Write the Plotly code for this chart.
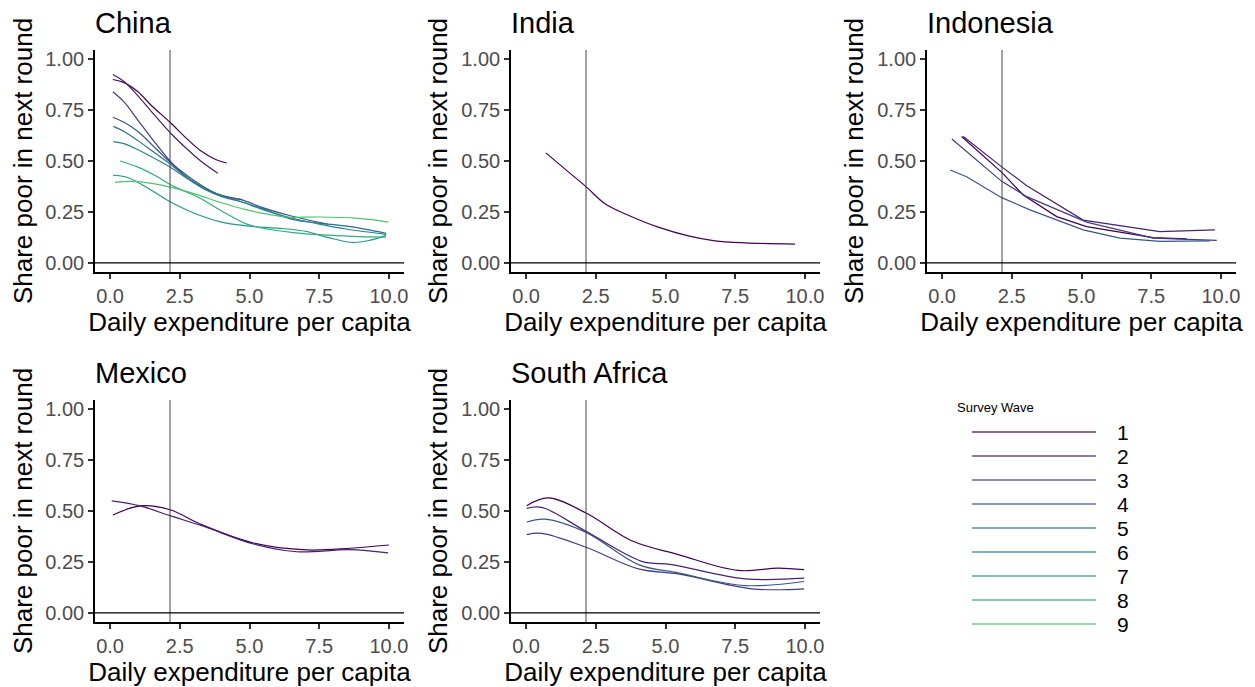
import plotly.graph_objects as go
from plotly.colors import sample_colorscale

# ---- data ----
countries = ["China", "India", "Indonesia", "Mexico", "South Africa"]
waves = [1, 2, 3, 4, 5, 6, 7, 8, 9]
poverty_line = 2.15

china_waves = [1, 2, 3, 4, 5, 6, 7, 8, 9]
china_x = [
    [0.1, 0.5, 1.0, 1.5, 2.15, 2.75, 3.25, 3.75, 4.18],
    [0.1, 0.5, 1.0, 1.5, 2.15, 2.75, 3.25, 3.86],
    [0.1, 0.5, 1.0, 1.5, 2.15, 2.75, 3.3, 3.8, 4.3, 4.75],
    [0.1, 0.5, 1.0, 1.5, 2.15, 2.75, 3.4, 4.0, 4.7, 5.5, 6.5, 7.8],
    [0.12, 0.5, 1.0, 1.5, 2.15, 2.75, 3.4, 4.0, 4.7, 5.5, 6.5, 7.5, 8.5, 9.9],
    [0.12, 0.5, 1.0, 1.5, 2.15, 2.75, 3.4, 4.0, 4.7, 5.5, 6.5, 7.5, 8.5, 9.9],
    [0.1, 0.6, 1.2, 2.15, 3.0, 4.0, 5.0, 6.0, 7.0, 7.8, 8.7, 9.3, 9.9],
    [0.36, 1.0, 1.6, 2.15, 2.7, 3.2, 4.0, 4.9, 5.7, 6.5, 7.6, 8.7, 9.9],
    [0.18, 0.8, 1.5, 2.15, 3.0, 4.0, 4.9, 5.6, 6.3, 7.5, 8.8, 9.4, 9.98],
]
china_y = [
    [0.90, 0.885, 0.84, 0.77, 0.69, 0.61, 0.55, 0.51, 0.49],
    [0.925, 0.89, 0.82, 0.74, 0.64, 0.56, 0.50, 0.44],
    [0.84, 0.79, 0.70, 0.61, 0.50, 0.42, 0.37, 0.34, 0.32, 0.31],
    [0.715, 0.69, 0.645, 0.58, 0.495, 0.43, 0.37, 0.33, 0.31, 0.27, 0.23, 0.19],
    [0.67, 0.645, 0.60, 0.55, 0.485, 0.42, 0.365, 0.33, 0.30, 0.265, 0.215, 0.195, 0.18, 0.145],
    [0.595, 0.585, 0.555, 0.52, 0.47, 0.415, 0.36, 0.325, 0.30, 0.26, 0.22, 0.19, 0.165, 0.14],
    [0.43, 0.42, 0.38, 0.30, 0.245, 0.20, 0.18, 0.17, 0.155, 0.125, 0.10, 0.11, 0.135],
    [0.50, 0.47, 0.43, 0.385, 0.35, 0.32, 0.255, 0.19, 0.165, 0.15, 0.137, 0.13, 0.126],
    [0.395, 0.40, 0.39, 0.372, 0.34, 0.295, 0.26, 0.24, 0.225, 0.225, 0.22, 0.212, 0.20],
]

india_waves = [1]
india_x = [[0.71, 1.4, 2.15, 2.83, 3.73, 4.74, 5.82, 6.77, 7.85, 9.64]]
india_y = [[0.54, 0.46, 0.374, 0.29, 0.23, 0.175, 0.132, 0.108, 0.098, 0.092]]

indonesia_waves = [1, 2, 3, 4]
indonesia_x = [
    [0.7, 2.15, 2.91, 4.11, 5.18, 7.57, 8.77],
    [0.76, 2.15, 3.04, 5.06, 7.81, 9.78],
    [0.35, 2.14, 3.04, 5.18, 7.57, 9.85],
    [0.29, 0.88, 2.14, 3.15, 5.06, 6.38, 7.81, 9.6],
]
indonesia_y = [
    [0.62, 0.443, 0.333, 0.227, 0.178, 0.124, 0.118],
    [0.62, 0.47, 0.379, 0.21, 0.153, 0.162],
    [0.608, 0.40, 0.325, 0.20, 0.121, 0.11],
    [0.456, 0.423, 0.32, 0.26, 0.162, 0.121, 0.105, 0.108],
]

mexico_waves = [1, 2]
mexico_x = [
    [0.1, 1.08, 2.15, 3.23, 5.14, 7.05, 8.6, 10.0],
    [0.06, 1.08, 2.15, 3.35, 5.14, 6.69, 8.6, 9.97],
]
mexico_y = [
    [0.48, 0.525, 0.506, 0.436, 0.343, 0.309, 0.317, 0.333],
    [0.55, 0.525, 0.477, 0.425, 0.338, 0.30, 0.31, 0.294],
]

south_africa_waves = [1, 2, 3, 4]
south_africa_x = [
    [0.02, 0.8, 2.15, 3.79, 5.46, 7.61, 9.04, 9.97],
    [0.02, 0.56, 2.15, 4.15, 5.22, 7.85, 9.97],
    [0.02, 0.56, 2.15, 4.03, 5.46, 8.09, 9.97],
    [0.02, 0.68, 2.15, 4.03, 5.46, 7.85, 9.97],
]
south_africa_y = [
    [0.526, 0.564, 0.49, 0.354, 0.286, 0.208, 0.22, 0.212],
    [0.513, 0.518, 0.40, 0.253, 0.237, 0.167, 0.170],
    [0.384, 0.39, 0.322, 0.216, 0.191, 0.118, 0.118],
    [0.446, 0.46, 0.395, 0.237, 0.196, 0.134, 0.154],
]

panels = [
    (china_waves, china_x, china_y),
    (india_waves, india_x, india_y),
    (indonesia_waves, indonesia_x, indonesia_y),
    (mexico_waves, mexico_x, mexico_y),
    (south_africa_waves, south_africa_x, south_africa_y),
]

# viridis, stopping at lime green like the reference
colors = sample_colorscale("Viridis", [i * 0.72 / 8 for i in range(9)])
wave_color = dict(zip(waves, colors))

W, H = 1255, 687
OFF = 8  # page body margin
col_px = [(95, 404), (511, 820), (927, 1236)]
row_px = [(50, 272), (400, 622)]
font = "Liberation Sans, Arial, sans-serif"


def px(v):
    return (v - OFF) / W


def py(v):
    return 1 - (v - OFF) / H


fig = go.Figure()

for i, (name, (wv, xs, ys)) in enumerate(zip(countries, panels)):
    r, c = divmod(i, 3)
    n = i + 1
    xa = "x" if n == 1 else f"x{n}"
    ya = "y" if n == 1 else f"y{n}"
    for w, x, y in zip(wv, xs, ys):
        fig.add_trace(go.Scatter(
            x=x, y=y, mode="lines", xaxis=xa, yaxis=ya,
            line=dict(color=wave_color[w], width=1.2,
                      shape="linear" if name == "Indonesia" else "spline",
                      smoothing=1.0),
            name=str(w), showlegend=False,
        ))

    x0, x1 = col_px[c]
    y0, y1 = row_px[r]
    axis_common = dict(showline=True, linecolor="black", linewidth=1.6,
                       ticks="outside", ticklen=5, tickwidth=1.6, tickcolor="#333333",
                       showgrid=False, zeroline=False, automargin=False,
                       tickfont=dict(family=font, size=20, color="#4d4d4d"))
    fig.update_layout({
        f"xaxis{'' if n == 1 else n}": dict(
            domain=[px(x0), px(x1)], anchor=ya, range=[-0.54, 10.54],
            tickvals=[0, 2.5, 5, 7.5, 10], tickformat=".1f",
            title=dict(text="Daily expenditure per capita", standoff=4,
                       font=dict(family=font, size=26, color="black")),
            **axis_common),
        f"yaxis{'' if n == 1 else n}": dict(
            domain=[py(y1), py(y0)], anchor=xa, range=[-0.045, 1.045],
            tickvals=[0, 0.25, 0.5, 0.75, 1], tickformat=".2f",
            title=dict(text="Share poor in next round", standoff=6,
                       font=dict(family=font, size=26, color="black")),
            **axis_common),
    })
    # poverty line and zero line
    fig.add_shape(type="line", xref=xa, yref=f"{ya} domain", x0=poverty_line, x1=poverty_line,
                  y0=0, y1=1, line=dict(color="#444444", width=1))
    fig.add_shape(type="line", xref=f"{xa} domain", yref=ya, x0=0, x1=1, y0=0, y1=0,
                  line=dict(color="black", width=1.1))
    fig.add_annotation(text=name, xref="paper", yref="paper", x=px(x0 - 1),
                       y=py(y0 - 27), xanchor="left", yanchor="middle", borderpad=0,
                       showarrow=False, font=dict(family=font, size=29, color="black"))

# hand-drawn legend (long keys, as in ggplot)
fig.add_annotation(text="Survey Wave", xref="paper", yref="paper", x=px(955), y=py(408),
                   xanchor="left", yanchor="middle", showarrow=False,
                   font=dict(family=font, size=13, color="black"))
for k, w in enumerate(waves):
    yy = py(432 + 24 * k)
    fig.add_shape(type="line", xref="paper", yref="paper", x0=px(972), x1=px(1096),
                  y0=yy, y1=yy, line=dict(color=wave_color[w], width=1.5), opacity=0.8)
    fig.add_annotation(text=str(w), xref="paper", yref="paper", x=px(1116), y=yy,
                       xanchor="left", yanchor="middle", showarrow=False, borderpad=0,
                       font=dict(family=font, size=21, color="black"))

fig.update_layout(width=W, height=H, margin=dict(l=0, r=0, t=0, b=0),
                  plot_bgcolor="white", paper_bgcolor="white", showlegend=False)

fig.write_html("out.html")
